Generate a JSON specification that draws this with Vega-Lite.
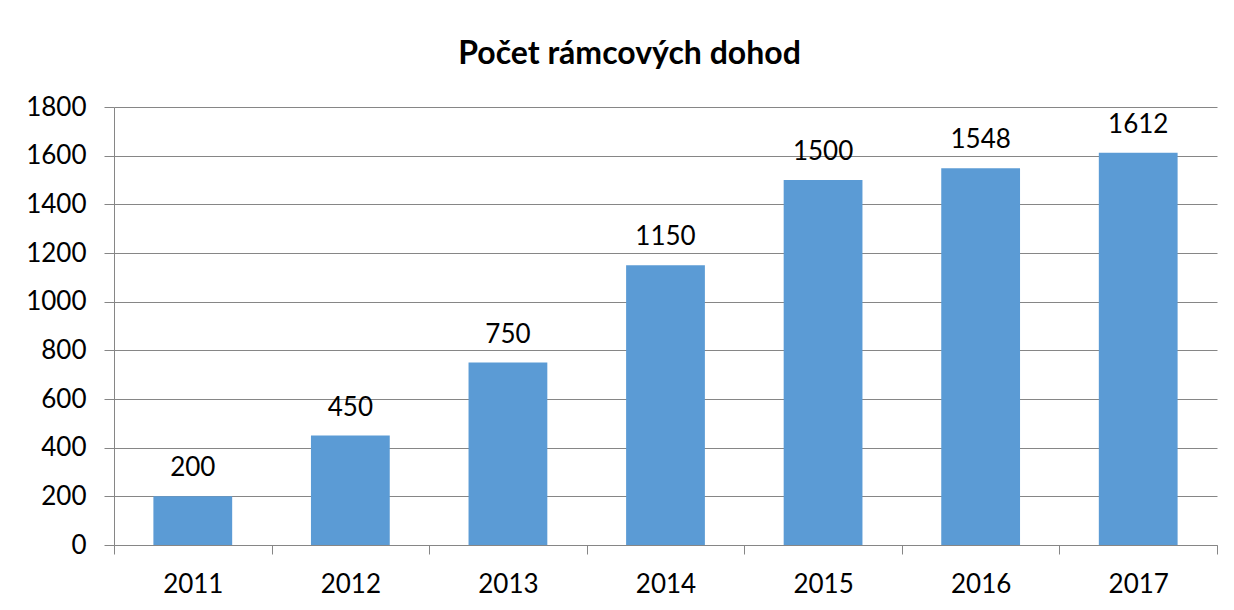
{
  "$schema": "https://vega.github.io/schema/vega-lite/v6.json",
  "width": 1103,
  "height": 438,
  "autosize": {"type": "none"},
  "padding": {"left": 114, "top": 107, "right": 17, "bottom": 65},
  "background": "white",
  "title": {
    "text": "Počet rámcových dohod",
    "font": "Lato",
    "fontSize": 32,
    "fontWeight": "bold",
    "color": "#000000",
    "anchor": "middle",
    "baseline": "alphabetic",
    "offset": -2,
    "dx": -36
  },
  "data": {
    "values": [
      {"rok": "2011", "pocet": 200},
      {"rok": "2012", "pocet": 450},
      {"rok": "2013", "pocet": 750},
      {"rok": "2014", "pocet": 1150},
      {"rok": "2015", "pocet": 1500},
      {"rok": "2016", "pocet": 1548},
      {"rok": "2017", "pocet": 1612}
    ]
  },
  "encoding": {
    "x": {
      "field": "rok",
      "type": "ordinal",
      "title": null,
      "scale": {"paddingInner": 0, "paddingOuter": 0},
      "axis": {
        "labelAngle": 0,
        "labelFont": "Lato",
        "labelFontSize": 26,
        "labelColor": "#000000",
        "labelBaseline": "alphabetic",
        "labelPadding": 38,
        "tickBand": "extent",
        "tickSize": 9,
        "tickColor": "#868686",
        "domainColor": "#868686",
        "grid": false
      }
    },
    "y": {
      "field": "pocet",
      "type": "quantitative",
      "title": null,
      "scale": {"domain": [0, 1800], "nice": false},
      "axis": {
        "values": [0, 200, 400, 600, 800, 1000, 1200, 1400, 1600, 1800],
        "format": "d",
        "labelFont": "Lato",
        "labelFontSize": 26,
        "labelColor": "#000000",
        "labelPadding": 18,
        "tickSize": 10,
        "tickColor": "#868686",
        "domainColor": "#868686",
        "gridColor": "#868686",
        "grid": true
      }
    }
  },
  "layer": [
    {
      "mark": {"type": "bar", "color": "#5B9BD5", "width": {"band": 0.5}}
    },
    {
      "mark": {
        "type": "text",
        "font": "Lato",
        "fontSize": 26,
        "color": "#000000",
        "baseline": "alphabetic",
        "dy": -20
      },
      "encoding": {"text": {"field": "pocet", "type": "quantitative", "format": "d"}}
    }
  ],
  "config": {"view": {"stroke": null}, "axis": {"domainWidth": 1, "tickWidth": 1, "gridWidth": 1}}
}
